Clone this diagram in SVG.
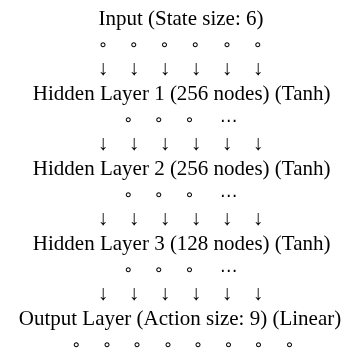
<svg xmlns="http://www.w3.org/2000/svg" width="348" height="354" viewBox="0 0 348 354">
<style>
text{font-family:"Liberation Serif","Times New Roman",serif;font-size:21px;fill:#000;text-anchor:middle}
.c{font-family:"DejaVu Sans",sans-serif;font-size:16px}
.d{font-family:"DejaVu Sans",sans-serif;font-size:17px}
</style>
<defs>
<filter id="gray" x="0" y="0" width="348" height="354" filterUnits="userSpaceOnUse"><feOffset dx="0" dy="0"/></filter>
</defs>
<rect width="348" height="354" fill="#fff"/>
<g filter="url(#gray)">
<g id="input">
<text x="181" y="24.5">Input (State size: 6)</text>
<text class="c" x="102.7" y="50">∘</text><text class="c" x="133.5" y="50">∘</text><text class="c" x="164.3" y="50">∘</text><text class="c" x="195.1" y="50">∘</text><text class="c" x="226.7" y="50">∘</text><text class="c" x="257.5" y="50">∘</text>
</g>
<g id="connectors">
<g><text x="103" y="74.5">↓</text><text x="134" y="74.5">↓</text><text x="165" y="74.5">↓</text><text x="196" y="74.5">↓</text><text x="227" y="74.5">↓</text><text x="258" y="74.5">↓</text></g>
<g><text x="103" y="149.5">↓</text><text x="134" y="149.5">↓</text><text x="165" y="149.5">↓</text><text x="196" y="149.5">↓</text><text x="227" y="149.5">↓</text><text x="258" y="149.5">↓</text></g>
<g><text x="103" y="224.5">↓</text><text x="134" y="224.5">↓</text><text x="165" y="224.5">↓</text><text x="196" y="224.5">↓</text><text x="227" y="224.5">↓</text><text x="258" y="224.5">↓</text></g>
<g><text x="103" y="299.5">↓</text><text x="134" y="299.5">↓</text><text x="165" y="299.5">↓</text><text x="196" y="299.5">↓</text><text x="227" y="299.5">↓</text><text x="258" y="299.5">↓</text></g>
</g>
<g id="hidden1">
<text x="181.7" y="99.5">Hidden Layer 1 (256 nodes) (Tanh)</text>
<text class="c" x="128" y="125">∘</text><text class="c" x="158.5" y="125">∘</text><text class="c" x="189.3" y="125">∘</text><text class="d" x="228.5" y="125.5">⋯</text>
</g>
<g id="hidden2">
<text x="181.7" y="174.5">Hidden Layer 2 (256 nodes) (Tanh)</text>
<text class="c" x="128" y="200">∘</text><text class="c" x="158.5" y="200">∘</text><text class="c" x="189.3" y="200">∘</text><text class="d" x="228.5" y="200.5">⋯</text>
</g>
<g id="hidden3">
<text x="181.7" y="249.5">Hidden Layer 3 (128 nodes) (Tanh)</text>
<text class="c" x="128" y="275">∘</text><text class="c" x="158.5" y="275">∘</text><text class="c" x="189.3" y="275">∘</text><text class="d" x="228.5" y="275.5">⋯</text>
</g>
<g id="output">
<text x="180" y="324.5">Output Layer (Action size: 9) (Linear)</text>
<text class="c" x="76" y="350">∘</text><text class="c" x="106.7" y="350">∘</text><text class="c" x="136.7" y="350">∘</text><text class="c" x="167.7" y="350">∘</text><text class="c" x="197.7" y="350">∘</text><text class="c" x="228.3" y="350">∘</text><text class="c" x="258.3" y="350">∘</text><text class="c" x="289.3" y="350">∘</text>
</g>
</g>
</svg>
